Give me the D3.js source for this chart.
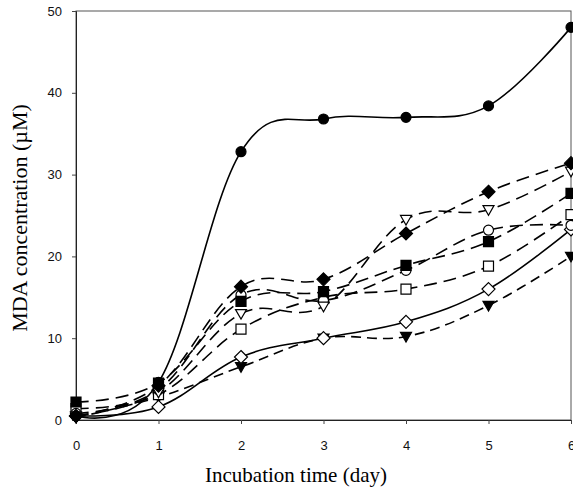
<!DOCTYPE html>
<html>
<head>
<meta charset="utf-8">
<script src="https://cdn.jsdelivr.net/npm/d3@7"></script>
<style>
  body { margin: 0; background: #fff; }
  .tick text { font-family: "Liberation Sans", Arial, sans-serif; font-size: 13px; }
</style>
</head>
<body>
<div class="canvas"></div>
<script>
// incubation days
const days = [0, 1, 2, 3, 4, 5, 6];
const yTicks = [0, 10, 20, 30, 40, 50];

// MDA concentration per series (uM)
const circleFilled   = [0.5, 4.6, 32.8, 36.8, 37.0, 38.4, 48.0];
const diamondFilled  = [0.5, 4.2, 16.3, 17.2, 22.8, 27.9, 31.4];
const triangleOpen   = [0.5, 3.4, 13.0, 13.9, 24.5, 25.7, 30.4];
const circleOpen     = [0.8, 3.7, 15.3, 14.6, 18.3, 23.2, 23.8];
const squareFilled   = [2.2, 4.5, 14.5, 15.7, 18.9, 21.8, 27.7];
const squareOpen     = [1.4, 3.1, 11.1, 15.0, 16.0, 18.8, 25.1];
const diamondOpen    = [0.5, 1.6, 7.7, 10.0, 12.0, 16.0, 23.3];
const triangleFilled = [0.3, 2.8, 6.5, 10.0, 10.2, 14.0, 20.0];

const series = [
  {vals: triangleFilled, shape: 'triDown', fill: '#000', dash: '10,6'},
  {vals: diamondOpen,    shape: 'diamond', fill: '#fff', dash: null},
  {vals: squareOpen,     shape: 'square',  fill: '#fff', dash: '13,7'},
  {vals: circleOpen,     shape: 'circle',  fill: '#fff', dash: '13,7'},
  {vals: squareFilled,   shape: 'square',  fill: '#000', dash: '13,7'},
  {vals: triangleOpen,   shape: 'triDown', fill: '#fff', dash: '13,7'},
  {vals: diamondFilled,  shape: 'diamond', fill: '#000', dash: '13,7'},
  {vals: circleFilled,   shape: 'circle',  fill: '#000', dash: null}
];

const W = 573, H = 488;
const margin = {top: 11, right: 2, bottom: 68, left: 76};
const w = W - margin.left - margin.right;
const h = H - margin.top - margin.bottom;

const svg = d3.select('.canvas')
  .append('svg')
  .attr('width', W)
  .attr('height', H);

const g = svg.append('g')
  .attr('transform', `translate(${margin.left},${margin.top})`);

const x = d3.scaleLinear().domain([0, 6]).range([0, w]);
const y = d3.scaleLinear().domain([0, 50]).range([h, 0]);

// frame
g.append('rect')
  .attr('width', w).attr('height', h)
  .attr('fill', 'none').attr('stroke', '#555').attr('stroke-width', 1);

const xAxis = g.append('g')
  .attr('transform', `translate(0,${h})`)
  .call(d3.axisBottom(x).tickValues(days).tickSize(4).tickPadding(17).tickFormat(d3.format('d')));
const yAxis = g.append('g')
  .call(d3.axisLeft(y).tickValues(yTicks).tickSize(4).tickPadding(10));
[xAxis, yAxis].forEach(a => {
  a.select('.domain').attr('stroke', '#222');
  a.selectAll('.tick line').attr('stroke', '#444');
  a.selectAll('.tick text').attr('fill', '#111');
});

const line = d3.line()
  .x((d, i) => x(days[i]))
  .y(d => y(d))
  .curve(d3.curveCardinal.tension(-0.1));

const shapes = {
  circle: s => { const r = s / 2; return `M${-r},0A${r},${r} 0 1,0 ${r},0A${r},${r} 0 1,0 ${-r},0Z`; },
  square: s => { const r = s / 2; return `M${-r},${-r}H${r}V${r}H${-r}Z`; },
  diamond: s => { const r = s / 2 + 1.5; return `M0,${-r}L${r},0L0,${r}L${-r},0Z`; },
  triDown: s => { const r = s / 2 + 0.5; return `M${-r},${-r * 0.75}L${r},${-r * 0.75}L0,${r}Z`; }
};

series.forEach(sr => {
  g.append('path')
    .datum(sr.vals)
    .attr('d', line)
    .attr('fill', 'none')
    .attr('stroke', '#000')
    .attr('stroke-width', 1.6)
    .attr('stroke-dasharray', sr.dash);
});

series.forEach(sr => {
  g.selectAll(null)
    .data(sr.vals)
    .enter()
    .append('path')
    .attr('transform', (d, i) => `translate(${x(days[i])},${y(d)})`)
    .attr('d', shapes[sr.shape](10))
    .attr('fill', sr.fill)
    .attr('stroke', '#000')
    .attr('stroke-width', 1.2);
});

svg.append('text')
  .attr('x', 296)
  .attr('y', 482)
  .attr('text-anchor', 'middle')
  .style('font-family', '"Liberation Serif", "Times New Roman", serif')
  .style('font-size', '21px')
  .text('Incubation time (day)');

svg.append('text')
  .attr('transform', `translate(27,218) rotate(-90)`)
  .attr('text-anchor', 'middle')
  .style('font-family', '"Liberation Serif", "Times New Roman", serif')
  .style('font-size', '22px')
  .text('MDA concentration (µM)');
</script>
</body>
</html>
